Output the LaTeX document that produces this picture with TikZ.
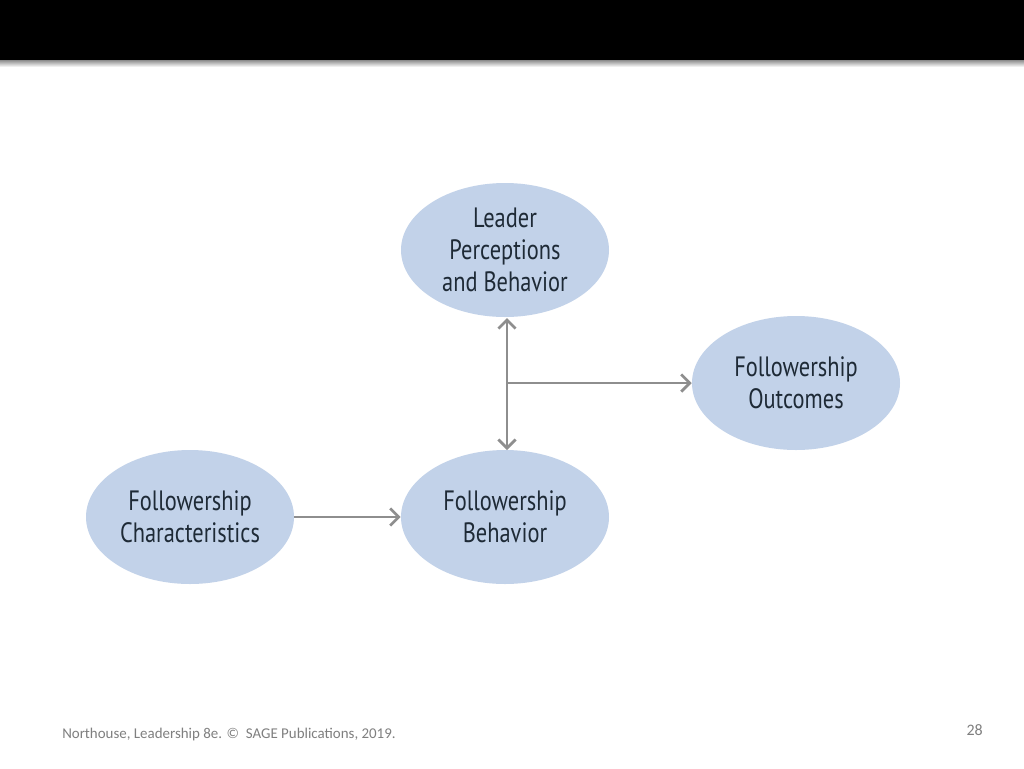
\documentclass[tikz,border=0pt]{standalone}
\usepackage{fontspec}
\setmainfont{Carlito}
\newfontfamily\nodefont[FakeStretch=0.8]{PT Sans}
\usetikzlibrary{shapes.geometric,arrows.meta}
\definecolor{ellfill}{HTML}{C2D2E9}
\definecolor{arrgray}{HTML}{8E8E8E}
\definecolor{txtdark}{HTML}{1E2A36}
\definecolor{footgray}{HTML}{7F7F7F}
\tikzset{
  bubble/.style={ellipse, fill=ellfill, minimum width=208*0.75pt, minimum height=134*0.75pt,
    inner sep=0pt, align=center, font=\nodefont\fontsize{21}{24}\selectfont, text=txtdark},
  conn/.style={draw=arrgray, line width=2pt, -{Straight Barb[length=6.5pt,width=13pt,line width=2pt]}},
  conn2/.style={draw=arrgray, line width=2pt, {Straight Barb[length=6.5pt,width=13pt,line width=2pt]}-{Straight Barb[length=6.5pt,width=13pt,line width=2pt]}},
  foot/.style={font=\fontsize{11.2}{13}\selectfont, text=footgray, inner sep=0pt}
}
\begin{document}
\begin{tikzpicture}[x=0.75pt,y=-0.75pt]
\useasboundingbox[fill=white] (0,0) rectangle (1024,768);
\shade[top color=black!45, bottom color=white] (0,60) rectangle (1024,67);
\fill[black] (0,0) rectangle (1024,60);
\node[bubble] (lead) at (505,250) {Leader\\Perceptions\\and Behavior};
\node[bubble] (out) at (796,383) {Followership\\Outcomes};
\node[bubble] (char) at (190,517) {Followership\\Characteristics};
\node[bubble] (beh) at (505,517) {Followership\\Behavior};
\coordinate (top) at (507,318);
\coordinate (bot) at (507,450);
\coordinate (mid) at (507,383);
\draw[conn2] (top) -- (bot);
\draw[conn] (mid) -- (out.west);
\draw[conn] (char.east) -- (beh.west);
\node[foot, anchor=base west] (cite) at (62,738) {Northouse, Leadership 8e. \textcopyright{}\ \ SAGE Publications, 2019.};
\node[foot, anchor=base east, font=\fontsize{12}{14}\selectfont] (pg) at (983,735) {28};
\end{tikzpicture}
\end{document}
